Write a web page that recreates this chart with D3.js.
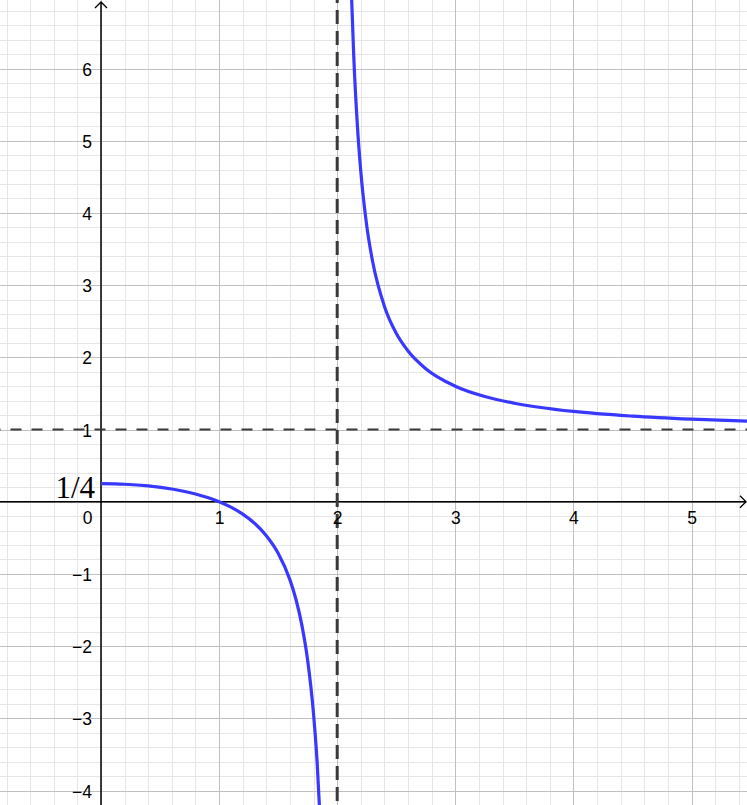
<!DOCTYPE html>
<html>
<head>
<meta charset="utf-8">
<script src="https://cdn.jsdelivr.net/npm/d3@7"></script>
<style>
  html, body { margin: 0; padding: 0; background: #fff; }
  svg { display: block; }
</style>
</head>
<body>
<script>
// ---- data ----
const leftX  = [0, 0.2, 0.4, 0.6, 0.8, 1.0, 1.1, 1.2, 1.3, 1.4, 1.5, 1.6, 1.65, 1.7, 1.75, 1.8, 1.83, 1.86];
const leftY  = [0.25, 0.242, 0.219, 0.176, 0.107, 0, -0.075, -0.172, -0.299, -0.471, -0.714, -1.083, -1.348, -1.703, -2.2, -2.947, -3.608, -4.55];
const rightX = [2.11, 2.12, 2.14, 2.17, 2.2, 2.25, 2.3, 2.4, 2.5, 2.6, 2.75, 3.0, 3.25, 3.5, 4.0, 4.5, 5.0, 5.5];
const rightY = [7.64, 7.07, 6.176, 5.232, 4.571, 3.824, 3.326, 2.705, 2.333, 2.087, 1.842, 1.6, 1.457, 1.364, 1.25, 1.185, 1.143, 1.114];
const verticalAsymptote = 2;
const horizontalAsymptote = 1;
const xTickLabels = [0, 1, 2, 3, 4, 5];
const yTickLabels = [-4, -3, -2, -1, 1, 2, 3, 4, 5, 6];
const interceptLabel = "1/4";
const interceptValue = 0.25;

// ---- layout ----
const W = 747, H = 805;
const pxPerX = 118.1, pxPerY = 72.2;
const x0px = 101, y0px = 501.7;
const x = d3.scaleLinear().domain([-x0px / pxPerX, (W - x0px) / pxPerX]).range([0, W]);
const y = d3.scaleLinear().domain([y0px / pxPerY, -(H - y0px) / pxPerY]).range([0, H]);

const svg = d3.select("body").append("svg").attr("width", W).attr("height", H)
  .style("font-family", "'Liberation Sans', Arial, sans-serif");
svg.append("rect").attr("width", W).attr("height", H).attr("fill", "#fff");

const [xa, xb] = x.domain();
const [ya, yb] = y.domain();
const xMinor = d3.range(Math.ceil(xa * 5), Math.floor(xb * 5) + 1).map(d => d / 5);
const yMinor = d3.range(Math.ceil(yb * 5), Math.floor(ya * 5) + 1).map(d => d / 5);
const xMajor = d3.range(Math.ceil(xa), Math.floor(xb) + 1);
const yMajor = d3.range(Math.ceil(yb), Math.floor(ya) + 1);

function grid(vals, color, vertical) {
  const g = svg.append("g");
  if (vertical) {
    g.attr("transform", `translate(0,${H})`)
     .call(d3.axisBottom(x).tickValues(vals).tickSizeInner(-H).tickSizeOuter(0).tickFormat(""));
  } else {
    g.call(d3.axisLeft(y).tickValues(vals).tickSizeInner(-W).tickSizeOuter(0).tickFormat(""));
  }
  g.select(".domain").remove();
  g.selectAll("line").attr("stroke", color).attr("stroke-width", 1).attr("shape-rendering", "crispEdges");
}
grid(xMinor, "#e6e6e6", true);
grid(yMinor, "#e6e6e6", false);
grid(xMajor, "#c0c0c0", true);
grid(yMajor, "#c0c0c0", false);

// ---- axes lines with arrows ----
const axisColor = "#000";
svg.append("line").attr("x1", 0).attr("x2", W - 1).attr("y1", y(0)).attr("y2", y(0))
  .attr("stroke", axisColor).attr("stroke-width", 1.5);
svg.append("line").attr("x1", x(0)).attr("x2", x(0)).attr("y1", 2).attr("y2", H)
  .attr("stroke", axisColor).attr("stroke-width", 1.5);
svg.append("path").attr("d", `M${W - 7},${y(0) - 6}L${W - 1},${y(0)}L${W - 7},${y(0) + 6}`)
  .attr("fill", "none").attr("stroke", axisColor).attr("stroke-width", 1.3);
svg.append("path").attr("d", `M${x(0) - 6},${8}L${x(0)},${2}L${x(0) + 6},${8}`)
  .attr("fill", "none").attr("stroke", axisColor).attr("stroke-width", 1.3);

// ---- asymptotes ----
svg.append("line").attr("x1", 0).attr("x2", W).attr("y1", y(horizontalAsymptote)).attr("y2", y(horizontalAsymptote))
  .attr("stroke", "#3a3a3a").attr("stroke-width", 2).attr("stroke-dasharray", "11,10").attr("stroke-dashoffset", 10.5);
svg.append("line").attr("x1", x(verticalAsymptote)).attr("x2", x(verticalAsymptote)).attr("y1", 0).attr("y2", H)
  .attr("stroke", "#3a3a3a").attr("stroke-width", 3).attr("stroke-dasharray", "14,7").attr("stroke-dashoffset", 11);

// ---- tick labels ----
const fmt = d3.format("d");
const xl = svg.append("g").attr("transform", `translate(0,${y(0)})`)
  .call(d3.axisBottom(x).tickValues(xTickLabels).tickFormat(fmt).tickSize(0).tickPadding(10));
xl.select(".domain").remove();
xl.selectAll("text").attr("font-size", 17.5).attr("fill", "#000")
  .attr("font-family", "'Liberation Sans', Arial, sans-serif")
  .filter(d => d === 0).attr("text-anchor", "end").attr("x", -9);

const yl = svg.append("g").attr("transform", `translate(${x(0)},0)`)
  .call(d3.axisLeft(y).tickValues(yTickLabels).tickFormat(fmt).tickSize(0).tickPadding(9));
yl.select(".domain").remove();
yl.selectAll("text").attr("font-size", 17.5).attr("fill", "#000")
  .attr("font-family", "'Liberation Sans', Arial, sans-serif").attr("dy", "0.38em");

// ---- curve ----
svg.append("clipPath").attr("id", "clip").append("rect").attr("width", W).attr("height", H);
const line = d3.line().x(d => x(d[0])).y(d => y(d[1])).curve(d3.curveMonotoneX);
const branches = [d3.zip(leftX, leftY), d3.zip(rightX, rightY)];
svg.append("g").attr("clip-path", "url(#clip)").selectAll("path").data(branches).join("path")
  .attr("d", line).attr("fill", "none").attr("stroke", "#3838ff").attr("stroke-width", 3.2)
  .attr("stroke-linejoin", "round");

// ---- intercept label ----
svg.append("text").attr("x", x(0) - 6).attr("y", y(interceptValue) + 14)
  .attr("text-anchor", "end").attr("font-family", "'Liberation Serif', 'DejaVu Serif', serif")
  .attr("font-size", 31).attr("fill", "#000").text(interceptLabel);
</script>
</body>
</html>
